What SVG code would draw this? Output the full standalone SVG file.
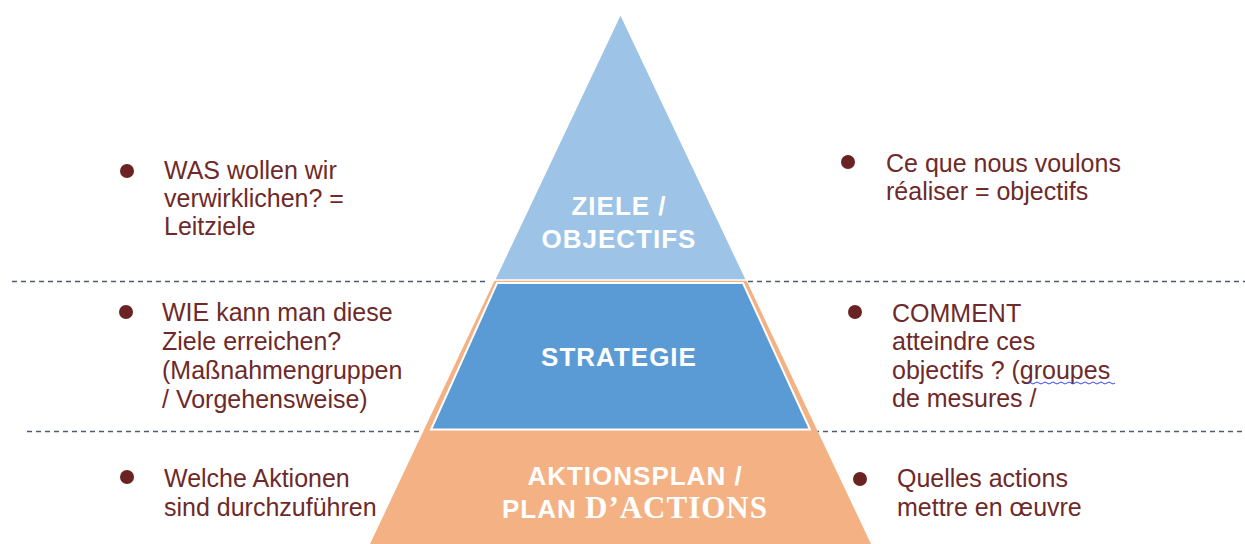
<svg xmlns="http://www.w3.org/2000/svg" width="1245" height="544" viewBox="0 0 1245 544">
  <style>
    .body { font-family: "Liberation Sans", Arial, sans-serif; font-size: 25px; fill: #6E2A2A; }
    .label { font-family: "Liberation Sans", Arial, sans-serif; font-size: 26px; font-weight: bold; fill: #FFFFFF; text-anchor: middle; letter-spacing: 1px; }
    .serif { font-family: "Liberation Serif", "Times New Roman", serif; font-size: 31px; }
    .bullet { fill: #6B2222; }
    .sep { stroke: #4F5B6E; stroke-width: 1.3; stroke-dasharray: 5 4; fill: none; }
  </style>

  <rect width="1245" height="544" fill="#FFFFFF"/>

  <!-- dashed separators between the levels -->
  <g id="connectors">
    <line class="sep" x1="12" y1="281.5" x2="488" y2="281.5"/>
    <line class="sep" x1="748" y1="281.5" x2="1245" y2="281.5"/>
    <line class="sep" x1="27" y1="431.5" x2="423" y2="431.5"/>
    <line class="sep" x1="814" y1="431.5" x2="1245" y2="431.5"/>
  </g>

  <!-- pyramid base: action plan -->
  <g id="aktionsplan">
    <polygon points="620.5,14 871,544 370,544" fill="#F4B183"/>
    <text class="label" x="635" y="485">AKTIONSPLAN /</text>
    <text class="label" x="635" y="518">PLAN <tspan class="serif">D’ACTIONS</tspan></text>
  </g>

  <!-- middle level: strategy -->
  <g id="strategie">
    <polygon points="497,283 743,283 810,429.5 431,429.5" fill="#5B9BD5" stroke="#FFFFFF" stroke-width="2"/>
    <text class="label" x="619" y="366">STRATEGIE</text>
  </g>

  <!-- top level: goals -->
  <g id="ziele">
    <polygon points="620.5,14 746.5,280 494.5,280" fill="#9DC3E6" stroke="#FFFFFF" stroke-width="1.5"/>
    <text class="label" x="619" y="215">ZIELE /</text>
    <text class="label" x="619" y="248">OBJECTIFS</text>
  </g>

  <!-- left column: German notes -->
  <g id="de-ziele">
    <circle class="bullet" cx="127" cy="171" r="7"/>
    <text class="body" x="164" y="179">WAS wollen wir</text>
    <text class="body" x="164" y="207">verwirklichen? =</text>
    <text class="body" x="164" y="235">Leitziele</text>
  </g>
  <g id="de-strategie">
    <circle class="bullet" cx="126" cy="312" r="7"/>
    <text class="body" x="162" y="321">WIE kann man diese</text>
    <text class="body" x="162" y="350">Ziele erreichen?</text>
    <text class="body" x="162" y="379">(Maßnahmengruppen</text>
    <text class="body" x="162" y="408">/ Vorgehensweise)</text>
  </g>
  <g id="de-aktionen">
    <circle class="bullet" cx="127" cy="477" r="7"/>
    <text class="body" x="164" y="487">Welche Aktionen</text>
    <text class="body" x="164" y="516">sind durchzuführen</text>
  </g>

  <!-- right column: French notes -->
  <g id="fr-objectifs">
    <circle class="bullet" cx="848" cy="162" r="7"/>
    <text class="body" x="886" y="172">Ce que nous voulons</text>
    <text class="body" x="886" y="200">réaliser = objectifs</text>
  </g>
  <g id="fr-strategie">
    <circle class="bullet" cx="855" cy="312" r="7"/>
    <text class="body" x="892" y="322">COMMENT</text>
    <text class="body" x="892" y="350">atteindre ces</text>
    <text class="body" x="892" y="379">objectifs ? (groupes</text>
    <text class="body" x="892" y="407">de mesures /</text>
    <path d="M1027,383 q2,-2 4,0 t4,0 t4,0 t4,0 t4,0 t4,0 t4,0 t4,0 t4,0 t4,0 t4,0 t4,0 t4,0 t4,0 t4,0 t4,0 t4,0 t4,0 t4,0 t4,0 t4,0 t4,0" fill="none" stroke="#3344EE" stroke-width="1"/>
  </g>
  <g id="fr-actions">
    <circle class="bullet" cx="860" cy="479" r="7"/>
    <text class="body" x="897" y="487">Quelles actions</text>
    <text class="body" x="897" y="516">mettre en œuvre</text>
  </g>
</svg>
